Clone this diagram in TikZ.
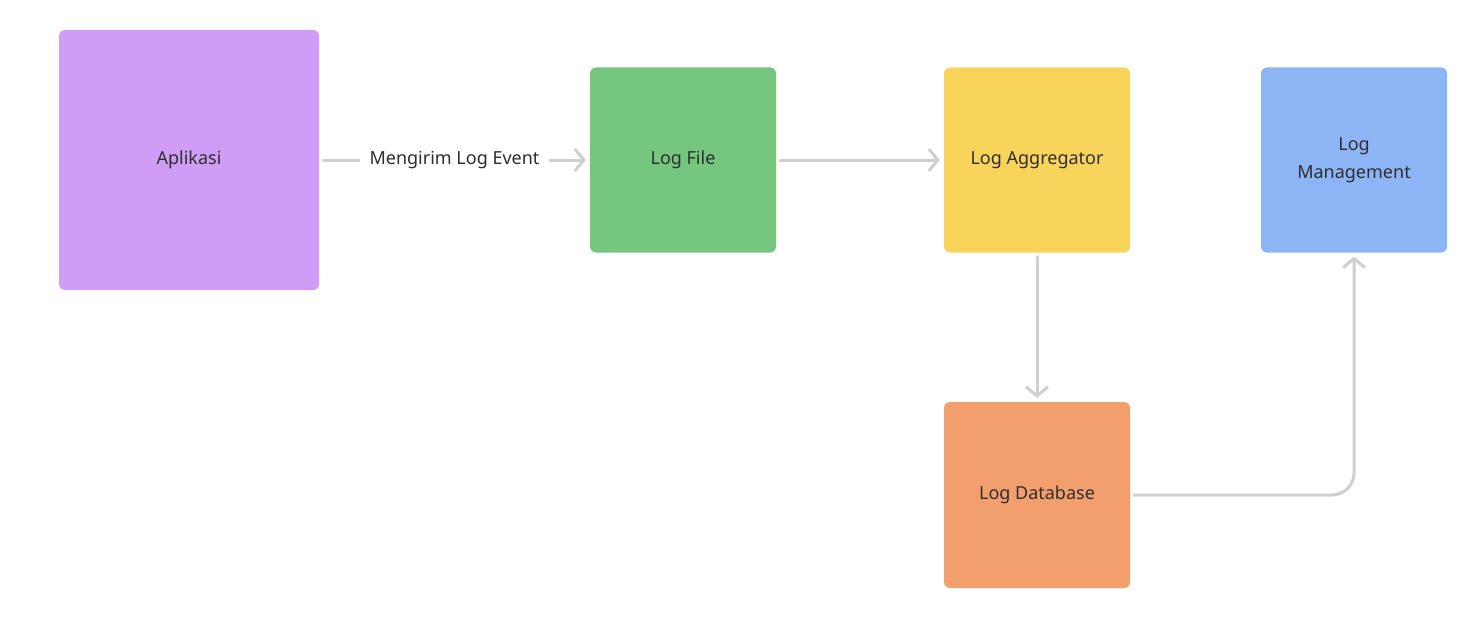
\documentclass[tikz,border=0pt]{standalone}
\usepackage{fontspec}
\setmainfont{Noto Sans}
\usetikzlibrary{arrows.meta}
\definecolor{cpurple}{HTML}{D09DF6}
\definecolor{cgreen}{HTML}{74C77C}
\definecolor{cyellow}{HTML}{F9D45A}
\definecolor{cblue}{HTML}{8DB5F5}
\definecolor{corange}{HTML}{F29F6D}
\definecolor{cline}{HTML}{CFCFCF}
\definecolor{ctext}{HTML}{2E2E2E}
\tikzset{
  box/.style={rounded corners=6pt, inner sep=0pt, text=ctext, font=\fontsize{18}{28}\selectfont, align=center},
  conn/.style={draw=cline, line width=3pt, -{Straight Barb[length=9pt,width=22pt,line width=3pt]}, line cap=round},
}
\begin{document}
\begin{tikzpicture}[x=1pt,y=-1pt]
\useasboundingbox[fill=white] (0,0) rectangle (1477,623);
\node[box, fill=cpurple, minimum width=260pt, minimum height=260pt] (app) at (189,160) {Aplikasi};
\node[box, fill=cgreen, minimum width=186pt, minimum height=185pt] (file) at (683,160) {Log File};
\node[box, fill=cyellow, minimum width=186pt, minimum height=185pt] (agg) at (1037,160) {Log Aggregator};
\node[box, fill=cblue, minimum width=186pt, minimum height=185pt] (mgmt) at (1354,160) {Log\\Management};
\node[box, fill=corange, minimum width=186pt, minimum height=186pt] (db) at (1037,495) {Log Database};
\draw[conn, shorten <=4pt, shorten >=4pt] (app) -- node[fill=white, text=ctext, font=\fontsize{18}{20}\selectfont, inner xsep=10pt] {Mengirim Log Event} (file);
\draw[conn, shorten <=4pt, shorten >=4pt] (file) -- (agg);
\draw[conn, shorten <=4pt, shorten >=4pt] (agg) -- (db);
\draw[conn, shorten <=4pt, shorten >=4pt, rounded corners=22pt] (db.east) -- (mgmt.south |- db.east) -- (mgmt.south);
\end{tikzpicture}
\end{document}
